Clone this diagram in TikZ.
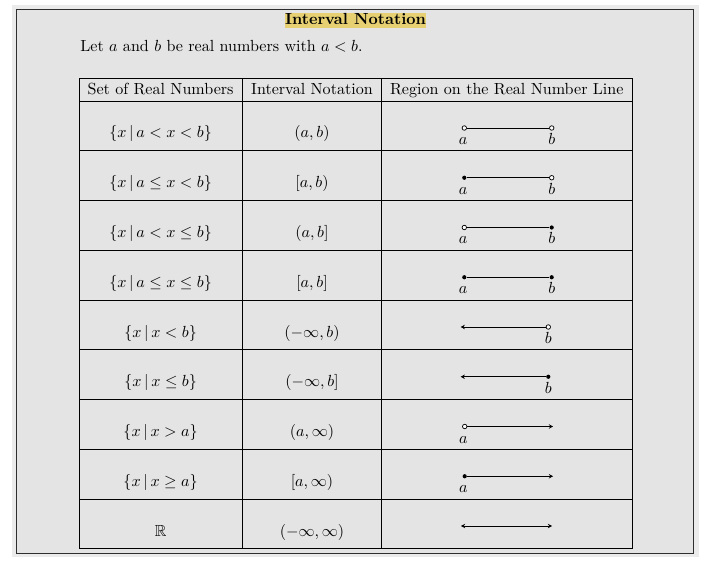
\documentclass[tikz,border=0pt]{standalone}
\usepackage{amssymb}
\usetikzlibrary{arrows.meta}
\definecolor{outerbg}{HTML}{EBEBEB}
\definecolor{innerbg}{HTML}{E4E4E4}
\definecolor{framec}{HTML}{2E2E2E}
\definecolor{hl}{HTML}{E6D072}
\begin{document}
\begin{tikzpicture}[x=0.62187pt,y=-0.62187pt,
  txt/.style={anchor=base,inner sep=0pt},
  lbl/.style={anchor=base,inner sep=0pt},
  opendot/.style={circle,draw=black,fill=white,line width=0.45pt,inner sep=0pt,minimum size=2.8pt},
  fulldot/.style={circle,fill=black,inner sep=0pt,minimum size=2.6pt},
  numline/.style={line width=0.5pt,black},
  tip/.style={-{Stealth[length=2.6pt,width=2.8pt,inset=0.9pt]}},
  bothtip/.style={{Stealth[length=2.6pt,width=2.8pt,inset=0.9pt]}-{Stealth[length=2.6pt,width=2.8pt,inset=0.9pt]}},
  grid/.style={line width=0.6pt,black}]
\useasboundingbox (0,0) rectangle (704,570);
% background and frame
\fill[outerbg] (12,5) rectangle (699,557.3);
\draw[framec,fill=innerbg,line width=0.9pt] (16.7,9.3) rectangle (693.3,553.7);
% title and intro
\node[txt,fill=hl,text height=7.3pt,text depth=2.1pt,font=\bfseries] (title) at (355.5,25) {Interval Notation};
\node[anchor=base west,inner sep=0pt] (intro) at (80,51.7) {Let $a$ and $b$ be real numbers with $a<b$.};
% table grid
\draw[grid] (79,78.3) rectangle (632,548.75);
\foreach \x in {242.3,381.7} \draw[grid] (\x,78.3) -- (\x,548.75);
\foreach \y in {101,150.75,200.5,250.25,300,349.75,399.5,449.25,499} \draw[grid] (79,\y) -- (632,\y);
% headers
\node[txt] (h1) at (160.6,95) {Set of Real Numbers};
\node[txt] (h2) at (312,95) {Interval Notation};
\node[txt] (h3) at (506.8,95) {Region on the Real Number Line};
% column 1 and 2
\node[txt] (s1) at (160.6,138) {$\{x\,|\,a<x<b\}$};
\node[txt] (n1) at (312,138) {$(a,b)$};
\node[txt] (s2) at (160.6,187.75) {$\{x\,|\,a\le x<b\}$};
\node[txt] (n2) at (312,187.75) {$[a,b)$};
\node[txt] (s3) at (160.6,237.5) {$\{x\,|\,a<x\le b\}$};
\node[txt] (n3) at (312,237.5) {$(a,b]$};
\node[txt] (s4) at (160.6,287.25) {$\{x\,|\,a\le x\le b\}$};
\node[txt] (n4) at (312,287.25) {$[a,b]$};
\node[txt] (s5) at (160.6,337) {$\{x\,|\,x<b\}$};
\node[txt] (n5) at (312,337) {$(-\infty,b)$};
\node[txt] (s6) at (160.6,386.75) {$\{x\,|\,x\le b\}$};
\node[txt] (n6) at (312,386.75) {$(-\infty,b]$};
\node[txt] (s7) at (160.6,436.5) {$\{x\,|\,x>a\}$};
\node[txt] (n7) at (312,436.5) {$(a,\infty)$};
\node[txt] (s8) at (160.6,486.25) {$\{x\,|\,x\ge a\}$};
\node[txt] (n8) at (312,486.25) {$[a,\infty)$};
\node[txt] (s9) at (160.6,536) {$\mathbb{R}$};
\node[txt] (n9) at (312,536) {$(-\infty,\infty)$};
% row 1
\node[opendot] (l1) at (464.3,128) {};
\node[opendot] (r1) at (551.7,128) {};
\draw[numline] (l1) -- (r1);
\node[lbl] (a1) at (463,144.5) {$a$};
\node[lbl] (b1) at (551.7,144.5) {$b$};
% row 2
\node[fulldot] (l2) at (464.3,177.75) {};
\node[opendot] (r2) at (551.7,177.75) {};
\draw[numline] (l2) -- (r2);
\node[lbl] (a2) at (463,194.25) {$a$};
\node[lbl] (b2) at (551.7,194.25) {$b$};
% row 3
\node[opendot] (l3) at (464.3,227.5) {};
\node[fulldot] (r3) at (551.7,227.5) {};
\draw[numline] (l3) -- (r3);
\node[lbl] (a3) at (463,244) {$a$};
\node[lbl] (b3) at (551.7,244) {$b$};
% row 4
\node[fulldot] (l4) at (464.3,277.25) {};
\node[fulldot] (r4) at (551.7,277.25) {};
\draw[numline] (l4) -- (r4);
\node[lbl] (a4) at (463,293.75) {$a$};
\node[lbl] (b4) at (551.7,293.75) {$b$};
% row 5
\coordinate (l5) at (460.7,327);
\node[opendot] (r5) at (548.3,327) {};
\draw[numline,tip] (r5) -- (l5);
\node[lbl] (b5) at (548.3,343.5) {$b$};
% row 6
\coordinate (l6) at (460.7,376.75);
\node[fulldot] (r6) at (548.3,376.75) {};
\draw[numline,tip] (r6) -- (l6);
\node[lbl] (b6) at (548.3,393.25) {$b$};
% row 7
\node[opendot] (l7) at (464.7,426.5) {};
\coordinate (r7) at (553,426.5);
\draw[numline,tip] (l7) -- (r7);
\node[lbl] (a7) at (463.4,443) {$a$};
% row 8
\node[fulldot] (l8) at (464.7,476.25) {};
\coordinate (r8) at (553,476.25);
\draw[numline,tip] (l8) -- (r8);
\node[lbl] (a8) at (463.4,492.75) {$a$};
% row 9
\coordinate (l9) at (461,526);
\coordinate (r9) at (552,526);
\draw[numline,bothtip] (l9) -- (r9);
\end{tikzpicture}
\end{document}
